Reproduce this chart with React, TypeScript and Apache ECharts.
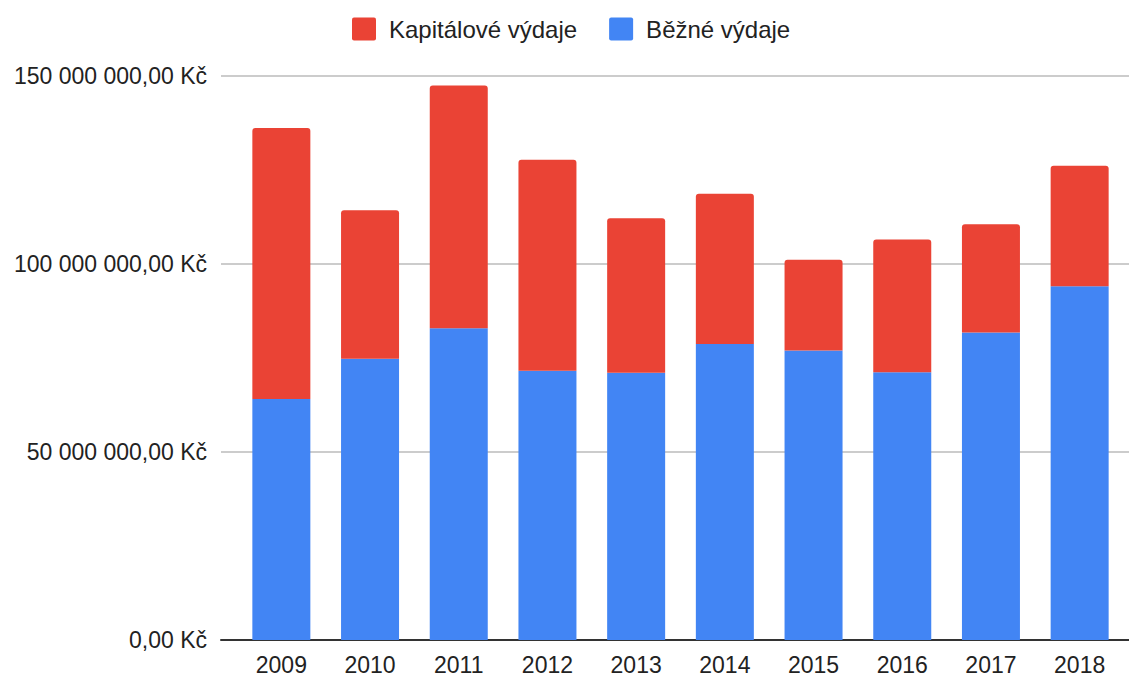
import React, { useEffect, useRef } from "react";
import * as echarts from "echarts";

const years = ["2009", "2010", "2011", "2012", "2013", "2014", "2015", "2016", "2017", "2018"];
const bezneVydaje = [64100000, 74800000, 82900000, 71600000, 71100000, 78700000, 77000000, 71200000, 81800000, 94100000];
const kapitaloveVydaje = [72100000, 39500000, 64600000, 56100000, 41100000, 40000000, 24100000, 35300000, 28800000, 32000000];
const yTicks = [0, 50000000, 100000000, 150000000];

const FONT = "'Liberation Sans', Arial, sans-serif";
const ICON = "path://M2,0 L22,0 Q24,0 24,2 L24,21 Q24,23 22,23 L2,23 Q0,23 0,21 L0,2 Q0,0 2,0 Z";

function formatKc(v: number): string {
  const s = Math.round(v).toString().replace(/\B(?=(\d{3})+(?!\d))/g, " ");
  return s + ",00 Kč";
}

export default function App() {
  const ref = useRef<HTMLDivElement>(null);
  useEffect(() => {
    if (!ref.current) return;
    const chart = echarts.init(ref.current, null, { renderer: "svg" });
    const yMax = yTicks[yTicks.length - 1];
    const yInterval = yTicks[1] - yTicks[0];
    chart.setOption({
      animation: false,
      backgroundColor: "#ffffff",
      textStyle: { fontFamily: FONT },
      legend: {
        left: 347,
        top: 12,
        itemWidth: 24,
        itemHeight: 23,
        itemGap: 32,
        icon: ICON,
        data: ["Kapitálové výdaje", "Běžné výdaje"],
        textStyle: { fontSize: 24, color: "#222222", fontFamily: FONT, padding: [0, 0, 0, 8] },
      },
      grid: [
        { left: 237, right: 5, top: 76, bottom: 37, containLabel: false },
        { left: 221, right: 0, top: 76, bottom: 37, containLabel: false },
      ],
      xAxis: [
        {
          type: "category",
          gridIndex: 0,
          data: years,
          axisLine: { show: false },
          axisTick: { show: false },
          axisLabel: { fontSize: 23, color: "#222222", margin: 13, fontFamily: FONT },
        },
        {
          type: "value",
          gridIndex: 1,
          min: 0,
          max: 1,
          axisLine: { show: true, onZero: false, lineStyle: { color: "#333333", width: 2 } },
          axisTick: { show: false },
          axisLabel: { show: false },
          splitLine: { show: false },
        },
      ],
      yAxis: [
        {
          type: "value",
          gridIndex: 0,
          min: 0,
          max: yMax,
          interval: yInterval,
          axisLine: { show: false },
          axisTick: { show: false },
          axisLabel: { show: false },
          splitLine: { show: false },
        },
        {
          type: "value",
          gridIndex: 1,
          min: 0,
          max: yMax,
          interval: yInterval,
          axisLine: { show: false },
          axisTick: { show: false },
          axisLabel: {
            fontSize: 23,
            color: "#222222",
            margin: 14,
            fontFamily: FONT,
            formatter: (v: number) => formatKc(v),
          },
          splitLine: { show: true, lineStyle: { color: "#cccccc", width: 2 } },
        },
      ],
      series: [
        {
          name: "Běžné výdaje",
          type: "bar",
          stack: "total",
          xAxisIndex: 0,
          yAxisIndex: 0,
          barWidth: 58,
          itemStyle: { color: "#4285F4" },
          data: bezneVydaje,
        },
        {
          name: "Kapitálové výdaje",
          type: "bar",
          stack: "total",
          xAxisIndex: 0,
          yAxisIndex: 0,
          barWidth: 58,
          itemStyle: { color: "#EA4335", borderRadius: [3, 3, 0, 0] },
          data: kapitaloveVydaje,
        },
      ],
    });
    return () => chart.dispose();
  }, []);
  return (
    <div
      ref={ref}
      style={{ position: "fixed", left: 0, top: 0, width: 1129, height: 677, background: "#fff" }}
    />
  );
}
